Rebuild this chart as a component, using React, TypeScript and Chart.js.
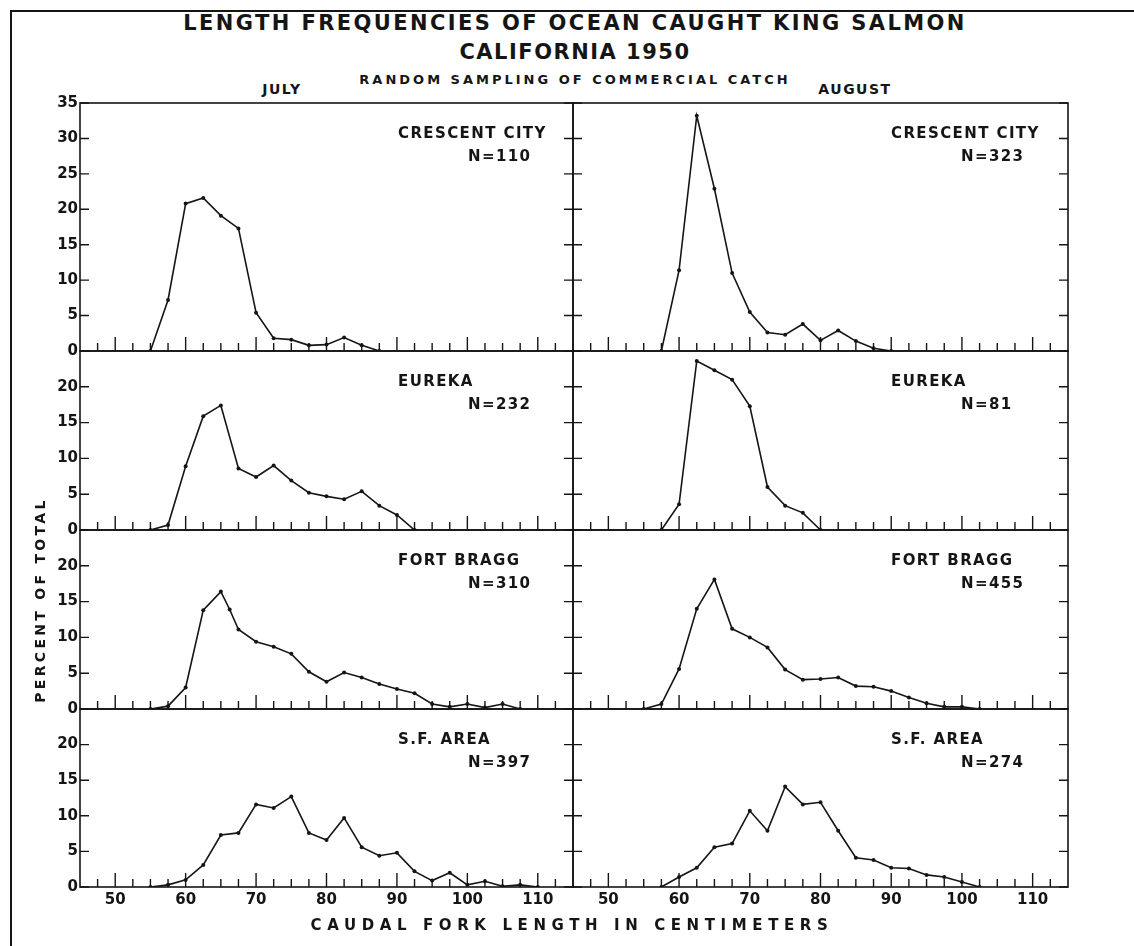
import React, { useEffect, useRef } from 'react';
import { Chart, registerables } from 'chart.js';

Chart.register(...registerables);

// ---------- data ----------
const areaNames = ['CRESCENT CITY', 'EUREKA', 'FORT BRAGG', 'S.F. AREA'];
const monthNames = ['JULY', 'AUGUST'];
const julySampleSizes = [110, 232, 310, 397];
const augustSampleSizes = [323, 81, 455, 274];

const crescentJulyLength = [55, 57.5, 60, 62.5, 65, 67.5, 70, 72.5, 75, 77.5, 80, 82.5, 85, 87.5];
const crescentJulyPct = [0, 7.2, 20.8, 21.6, 19.1, 17.3, 5.4, 1.8, 1.6, 0.8, 0.9, 1.9, 0.8, 0];

const crescentAugustLength = [57.5, 60, 62.5, 65, 67.5, 70, 72.5, 75, 77.5, 80, 82.5, 85, 87.5, 90];
const crescentAugustPct = [0, 11.4, 33.2, 22.9, 11.0, 5.5, 2.6, 2.3, 3.8, 1.5, 2.9, 1.4, 0.4, 0];

const eurekaJulyLength = [55, 57.5, 60, 62.5, 65, 67.5, 70, 72.5, 75, 77.5, 80, 82.5, 85, 87.5, 90, 92.5];
const eurekaJulyPct = [0, 0.7, 8.9, 15.9, 17.4, 8.6, 7.4, 9.0, 6.9, 5.2, 4.7, 4.3, 5.4, 3.4, 2.1, 0];

const eurekaAugustLength = [57.5, 60, 62.5, 65, 67.5, 70, 72.5, 75, 77.5, 80];
const eurekaAugustPct = [0, 3.6, 23.6, 22.3, 21.0, 17.3, 6.0, 3.4, 2.4, 0];

const fortBraggJulyLength = [55, 57.5, 60, 62.5, 65, 66.25, 67.5, 70, 72.5, 75, 77.5, 80, 82.5, 85, 87.5, 90, 92.5, 95, 97.5, 100, 102.5, 105, 107.5];
const fortBraggJulyPct = [0, 0.4, 3.0, 13.8, 16.4, 13.9, 11.1, 9.4, 8.7, 7.7, 5.2, 3.8, 5.1, 4.4, 3.5, 2.8, 2.2, 0.7, 0.3, 0.7, 0.2, 0.7, 0];

const fortBraggAugustLength = [55, 57.5, 60, 62.5, 65, 67.5, 70, 72.5, 75, 77.5, 80, 82.5, 85, 87.5, 90, 92.5, 95, 97.5, 100, 102.5];
const fortBraggAugustPct = [0, 0.7, 5.6, 14.0, 18.1, 11.2, 10.0, 8.6, 5.5, 4.1, 4.2, 4.4, 3.2, 3.1, 2.5, 1.6, 0.8, 0.3, 0.3, 0];

const sfJulyLength = [55, 57.5, 60, 62.5, 65, 67.5, 70, 72.5, 75, 77.5, 80, 82.5, 85, 87.5, 90, 92.5, 95, 97.5, 100, 102.5, 105, 107.5, 110];
const sfJulyPct = [0, 0.3, 1.0, 3.1, 7.3, 7.6, 11.6, 11.1, 12.7, 7.6, 6.6, 9.7, 5.6, 4.4, 4.8, 2.2, 0.9, 2.0, 0.3, 0.8, 0.1, 0.3, 0];

const sfAugustLength = [57.5, 60, 62.5, 65, 67.5, 70, 72.5, 75, 77.5, 80, 82.5, 85, 87.5, 90, 92.5, 95, 97.5, 100, 102.5];
const sfAugustPct = [0, 1.4, 2.7, 5.6, 6.1, 10.7, 7.9, 14.1, 11.6, 11.9, 7.9, 4.1, 3.8, 2.7, 2.6, 1.7, 1.4, 0.7, 0];

const xLabelValues = [50, 60, 70, 80, 90, 100, 110];
const xTickMarks = [47.5, 50, 52.5, 55, 57.5, 60, 62.5, 65, 67.5, 70, 72.5, 75, 77.5, 80, 82.5, 85, 87.5, 90, 92.5, 95, 97.5, 100, 102.5, 105, 107.5, 110, 112.5];
const yTicksTopRow = [0, 5, 10, 15, 20, 25, 30, 35];
const yTicksLowerRows = [0, 5, 10, 15, 20];
const yMaxTopRow = 35;
const yMaxLowerRows = 25;
const xMin = 45;
const xMax = 115;

// ---------- layout ----------
const PAGE_W = 1134;
const PAGE_H = 946;
const colEdges = [80, 573, 1068];
const rowEdges = [103, 351, 530, 709, 887];
const Y_AXIS_W = 44;
const X_AXIS_H = 30;
const INK = '#151515';
const FONT = '"DejaVu Sans", Verdana, sans-serif';

const seriesByPanel = [
  [[crescentJulyLength, crescentJulyPct], [crescentAugustLength, crescentAugustPct]],
  [[eurekaJulyLength, eurekaJulyPct], [eurekaAugustLength, eurekaAugustPct]],
  [[fortBraggJulyLength, fortBraggJulyPct], [fortBraggAugustLength, fortBraggAugustPct]],
  [[sfJulyLength, sfJulyPct], [sfAugustLength, sfAugustPct]],
];

function makeDecor(name: string, n: number, yTicks: number[]) {
  return {
    id: 'panelDecor',
    afterDraw(chart: any) {
      const { ctx, chartArea: a, scales } = chart;
      const x = scales.x;
      const y = scales.y;
      ctx.save();
      ctx.strokeStyle = INK;
      ctx.lineWidth = 1.6;
      ctx.strokeRect(a.left, a.top, a.right - a.left, a.bottom - a.top);
      ctx.lineWidth = 1.4;
      ctx.beginPath();
      for (const v of yTicks) {
        const py = y.getPixelForValue(v);
        ctx.moveTo(a.left, py);
        ctx.lineTo(a.left + 9, py);
        ctx.moveTo(a.right - 9, py);
        ctx.lineTo(a.right, py);
      }
      for (const v of xTickMarks) {
        const px = x.getPixelForValue(v);
        const len = v % 10 === 0 ? 14 : 8;
        ctx.moveTo(px, a.bottom);
        ctx.lineTo(px, a.bottom - len);
      }
      ctx.stroke();
      ctx.fillStyle = INK;
      ctx.font = `bold 15px ${FONT}`;
      ctx.textAlign = 'left';
      ctx.textBaseline = 'middle';
      (ctx as any).letterSpacing = '1.4px';
      ctx.fillText(name, a.left + 318, a.top + 31);
      ctx.fillText('N=' + n, a.left + 388, a.top + 54);
      ctx.restore();
    },
  };
}

function Panel({ row, col }: { row: number; col: number }) {
  const ref = useRef<HTMLCanvasElement | null>(null);
  useEffect(() => {
    if (!ref.current) return;
    const [lengths, pcts] = seriesByPanel[row][col];
    const left = colEdges[col];
    const right = colEdges[col + 1];
    const top = rowEdges[row];
    const bottom = rowEdges[row + 1];
    const showY = col === 0;
    const showX = row === 3;
    const yMax = row === 0 ? yMaxTopRow : yMaxLowerRows;
    const yTicks = row === 0 ? yTicksTopRow : yTicksLowerRows;
    const n = col === 0 ? julySampleSizes[row] : augustSampleSizes[row];
    const tickFont = { family: FONT, size: 15, weight: 'bold' as const };
    const chart = new Chart(ref.current, {
      type: 'line',
      data: {
        datasets: [
          {
            label: areaNames[row] + ' ' + monthNames[col],
            data: lengths.map((v, i) => ({ x: v, y: pcts[i] })),
            borderColor: INK,
            backgroundColor: INK,
            borderWidth: 1.6,
            pointRadius: 2,
            pointBorderWidth: 0,
            pointBackgroundColor: INK,
            tension: 0,
            fill: false,
          },
        ],
      },
      options: {
        animation: false,
        responsive: false,
        devicePixelRatio: 1,
        events: [],
        layout: {
          padding: {
            left: left - (showY ? Y_AXIS_W : 0),
            right: PAGE_W - right,
            top: top,
            bottom: PAGE_H - bottom - (showX ? X_AXIS_H : 0),
          },
        },
        plugins: { legend: { display: false }, tooltip: { enabled: false }, title: { display: false } },
        scales: {
          x: {
            type: 'linear',
            min: xMin,
            max: xMax,
            display: showX,
            afterBuildTicks: (ax: any) => {
              ax.ticks = xLabelValues.map((v) => ({ value: v }));
            },
            afterFit: (ax: any) => {
              ax.height = showX ? X_AXIS_H : 0;
            },
            grid: { display: false, drawTicks: false },
            border: { display: false },
            ticks: { padding: 4, font: tickFont, color: INK, maxRotation: 0, autoSkip: false },
          },
          y: {
            type: 'linear',
            min: 0,
            max: yMax,
            display: showY,
            afterBuildTicks: (ax: any) => {
              ax.ticks = yTicks.map((v) => ({ value: v }));
            },
            afterFit: (ax: any) => {
              ax.width = showY ? Y_AXIS_W : 0;
            },
            grid: { display: false, drawTicks: false },
            border: { display: false },
            ticks: { padding: 2, font: tickFont, color: INK, autoSkip: false },
          },
        },
      },
      plugins: [makeDecor(areaNames[row], n, yTicks)],
    } as any);
    return () => chart.destroy();
  }, [row, col]);
  return (
    <canvas
      ref={ref}
      width={PAGE_W}
      height={PAGE_H}
      style={{ position: 'absolute', left: 0, top: 0, width: PAGE_W, height: PAGE_H }}
    />
  );
}

const textBase: React.CSSProperties = {
  position: 'absolute',
  fontFamily: FONT,
  fontWeight: 'bold',
  color: INK,
  whiteSpace: 'nowrap',
  textAlign: 'center',
  lineHeight: 1,
};

export default function App() {
  const panels = [];
  for (let r = 0; r < 4; r++) for (let c = 0; c < 2; c++) panels.push(<Panel key={r + '-' + c} row={r} col={c} />);
  return (
    <div style={{ position: 'absolute', left: 0, top: 0, width: PAGE_W, height: PAGE_H, background: '#fff', overflow: 'hidden' }}>
      <div style={{ position: 'absolute', left: 11, top: 10, width: PAGE_W - 11, height: 2, background: INK }} />
      <div style={{ position: 'absolute', left: 10, top: 10, width: 2, height: PAGE_H - 10, background: INK }} />
      <div style={{ ...textBase, left: 75, width: 1000, top: 13, fontSize: 21, letterSpacing: 2.4 }}>
        LENGTH FREQUENCIES OF OCEAN CAUGHT KING SALMON
      </div>
      <div style={{ ...textBase, left: 75, width: 1000, top: 42, fontSize: 21, letterSpacing: 1.5 }}>
        CALIFORNIA 1950
      </div>
      <div style={{ ...textBase, left: 75, width: 1000, top: 73, fontSize: 13, letterSpacing: 3.0 }}>
        RANDOM SAMPLING OF COMMERCIAL CATCH
      </div>
      <div style={{ ...textBase, left: 182, width: 200, top: 82, fontSize: 14, letterSpacing: 1.5 }}>
        {monthNames[0]}
      </div>
      <div style={{ ...textBase, left: 755, width: 200, top: 82, fontSize: 14, letterSpacing: 1.5 }}>
        {monthNames[1]}
      </div>
      {panels}
      <div
        style={{
          ...textBase,
          left: 40 - 150,
          width: 300,
          top: 600 - 7,
          fontSize: 14,
          letterSpacing: 3.3,
          transform: 'rotate(-90deg)',
          transformOrigin: '50% 50%',
        }}
      >
        PERCENT OF TOTAL
      </div>
      <div style={{ ...textBase, left: 72, width: 1000, top: 918, fontSize: 15, letterSpacing: 5.6 }}>
        CAUDAL FORK LENGTH IN CENTIMETERS
      </div>
    </div>
  );
}
